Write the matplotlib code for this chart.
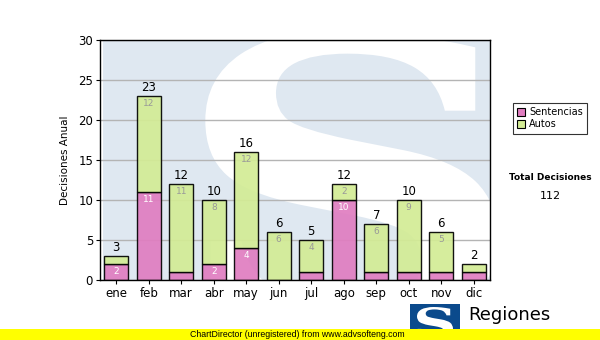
import matplotlib
matplotlib.use("Agg")
import matplotlib.pyplot as plt
import numpy as np
from matplotlib.textpath import TextPath
from matplotlib.patches import PathPatch, Rectangle
from matplotlib.font_manager import FontProperties
from matplotlib.transforms import Affine2D

# ========================= 数据 =========================

MESES = ["ene", "feb", "mar", "abr", "may", "jun", "jul", "ago", "sep", "oct", "nov", "dic"]
SENTENCIAS = [2, 11, 1, 2, 4, 0, 1, 10, 1, 1, 1, 1]
AUTOS = [1, 12, 11, 8, 12, 6, 4, 2, 6, 9, 5, 1]

COLOR_SENT = "#e07dc0"
COLOR_AUTO = "#d3ec95"
FONT = "DejaVu Sans"


def s_patch(box, color, transform):
    """Dibuja una 'S' ajustada a la caja (x0, y0, x1, y1)."""
    tp = TextPath((0, 0), "S", size=1, prop=FontProperties(family="DejaVu Serif", weight="bold"))
    ext = tp.get_extents()
    x0, y0, x1, y1 = box
    tr = (Affine2D().translate(-ext.x0, -ext.y0)
          .scale((x1 - x0) / ext.width, (y1 - y0) / ext.height)
          .translate(x0, y0))
    return PathPatch(tr.transform_path(tp), facecolor=color, edgecolor="none",
                     transform=transform, zorder=0.5)


fig = plt.figure(figsize=(6, 3.4), dpi=100)
fig.patch.set_facecolor("white")

ax = fig.add_axes([100 / 600, 60 / 340, 390 / 600, 240 / 340])
ax.set_facecolor("white")

# marca de agua del fondo
ax.add_patch(Rectangle((0.008, 0), 1.0, 1.0, transform=ax.transAxes,
                       facecolor="#dfe8f1", edgecolor="none", zorder=0.3))
sp = s_patch((0.27, -0.2, 1.02, 1.04), "white", ax.transAxes)
sp.set_clip_path(ax.patch)
ax.add_patch(sp)

x = np.arange(len(MESES))
sent = np.array(SENTENCIAS)
autos = np.array(AUTOS)
total = sent + autos
w = 0.74

ax.bar(x, sent, w, color=COLOR_SENT, alpha=0.92, edgecolor="black", linewidth=1.0, zorder=3)
ax.bar(x, autos, w, bottom=sent, color=COLOR_AUTO, alpha=0.92, edgecolor="black", linewidth=1.0, zorder=3)

for i in range(len(MESES)):
    ax.text(x[i], total[i] + 0.25, str(total[i]), ha="center", va="bottom",
            fontsize=8.5, family=FONT, color="black", zorder=5)
    if sent[i] >= 2:
        ax.text(x[i], sent[i] - 0.4, str(sent[i]), ha="center", va="top",
                fontsize=6.5, family=FONT, color="white", zorder=5)
    if autos[i] >= 2:
        ax.text(x[i], total[i] - 0.4, str(autos[i]), ha="center", va="top",
                fontsize=6.5, family=FONT, color="#999999", zorder=5)

ax.set_xlim(-0.5, len(MESES) - 0.5)
ax.set_ylim(0, 30)
ax.set_yticks(range(0, 31, 5))
ax.set_xticks(x)
ax.set_xticklabels(MESES)
ax.yaxis.grid(True, color="#b4b4b4", linewidth=1.0)
for line in ax.get_ygridlines():
    line.set_zorder(1)
ax.tick_params(axis="both", labelsize=8.5, length=3, width=0.8, colors="black", pad=2)
for lbl in ax.get_xticklabels() + ax.get_yticklabels():
    lbl.set_family(FONT)
for s in ax.spines.values():
    s.set_linewidth(1.0)
    s.set_zorder(6)
ax.set_ylabel("Decisiones Anual", fontsize=7.5, family=FONT, labelpad=6)

# leyenda
leg = fig.legend(
    handles=[Rectangle((0, 0), 1, 1, facecolor=COLOR_SENT, edgecolor="black", linewidth=0.8),
             Rectangle((0, 0), 1, 1, facecolor=COLOR_AUTO, edgecolor="black", linewidth=0.8)],
    labels=["Sentencias", "Autos"], loc="upper left",
    bbox_to_anchor=(508 / 600, 1 - 98 / 340), frameon=True, fancybox=False,
    edgecolor="black", handlelength=0.8, handleheight=0.8,
    handletextpad=0.4, borderpad=0.45, labelspacing=0.2, prop={"family": FONT, "size": 7})
leg.get_frame().set_linewidth(0.8)

fig.text(550 / 600, 1 - 178 / 340, "Total Decisiones", ha="center", va="center",
         fontsize=6.5, weight="bold", family=FONT)
fig.text(550 / 600, 1 - 196 / 340, str(int(total.sum())), ha="center", va="center",
         fontsize=8, family=FONT)

# logotipo inferior
fig.patches.append(Rectangle((410 / 600, 0), 50 / 600, 36 / 340, transform=fig.transFigure,
                             facecolor="#0b4a8c", edgecolor="none", zorder=1))
logo_s = s_patch((417 / 600, 2 / 340, 453 / 600, 33 / 340), "white", fig.transFigure)
logo_s.set_zorder(2)
fig.patches.append(logo_s)
fig.text(468 / 600, 1 - 315 / 340, "Regiones", ha="left", va="center",
         fontsize=13, family=FONT, zorder=2)

# franja amarilla
fig.patches.append(Rectangle((0, 0), 1, 11 / 340, transform=fig.transFigure,
                             facecolor="#ffff00", edgecolor="none", zorder=3))
fig.text(190 / 600, 5.5 / 340, "ChartDirector (unregistered) from www.advsofteng.com",
         ha="left", va="center", fontsize=6.3, family="Liberation Sans", zorder=4)

fig.savefig("out.png", dpi=100)
